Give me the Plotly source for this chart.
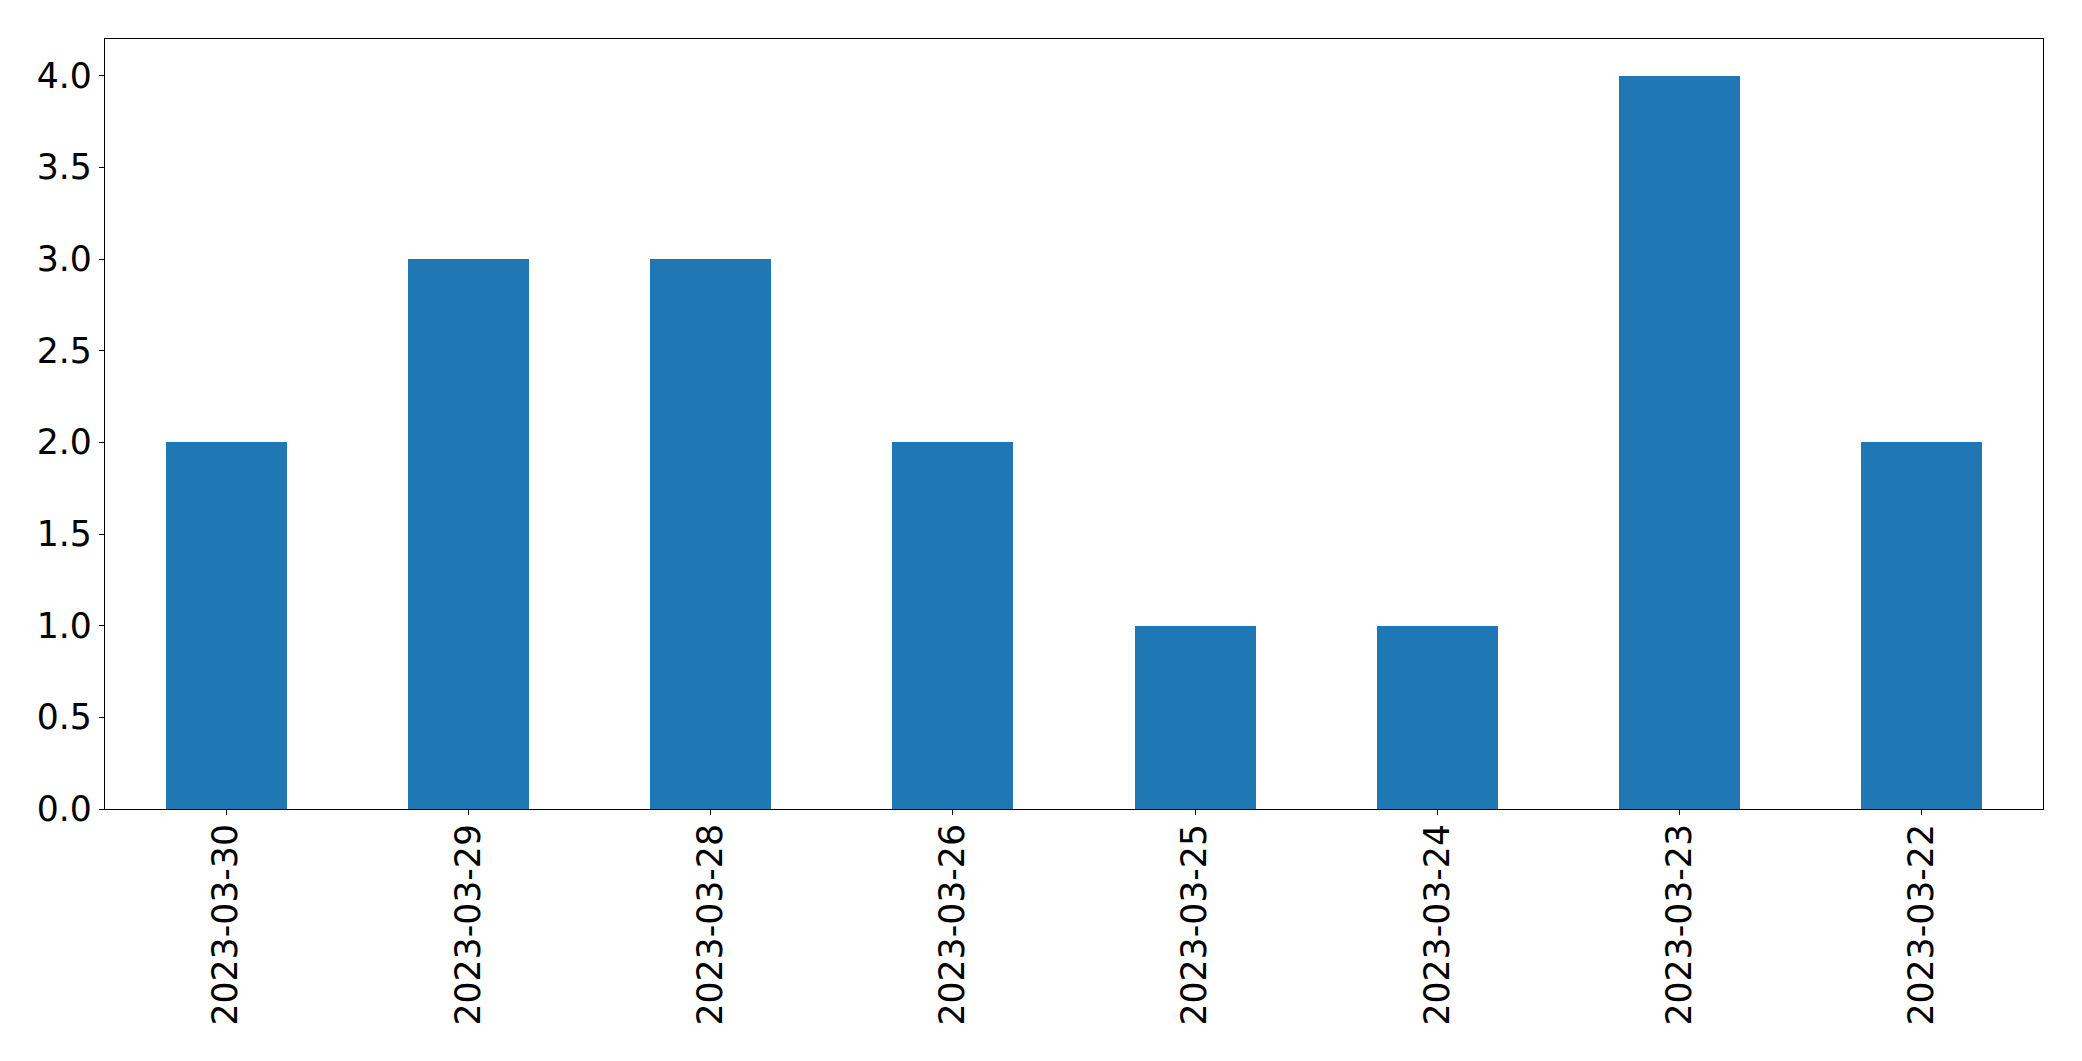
import plotly.graph_objects as go

dates = ["2023-03-30", "2023-03-29", "2023-03-28", "2023-03-26",
         "2023-03-25", "2023-03-24", "2023-03-23", "2023-03-22"]
counts = [2, 3, 3, 2, 1, 1, 4, 2]

fig = go.Figure(go.Bar(x=dates, y=counts, marker_color="#1f77b4",
                       marker_line_width=0, width=0.5))

axis_common = dict(showline=True, mirror=True, linecolor="black", linewidth=1.3,
                   ticks="outside", ticklen=5, tickwidth=1.3, tickcolor="black",
                   showgrid=False, zeroline=False,
                   tickfont=dict(family="DejaVu Sans", size=34.7, color="black"))

# page body has an 8px default margin, so figure is sized/offset to compensate
fig.update_layout(
    width=2066, height=1045,
    margin=dict(l=97, r=31, t=31, b=244),
    plot_bgcolor="white", paper_bgcolor="white",
    showlegend=False,
    bargap=0,
    xaxis=dict(type="category", range=[-0.5, 7.5], tickangle=-90,
               ticklabelstandoff=-5, **axis_common),
    yaxis=dict(range=[0, 4.2], dtick=0.5, tickformat=".1f", **axis_common),
)

fig.write_html("out.html")
